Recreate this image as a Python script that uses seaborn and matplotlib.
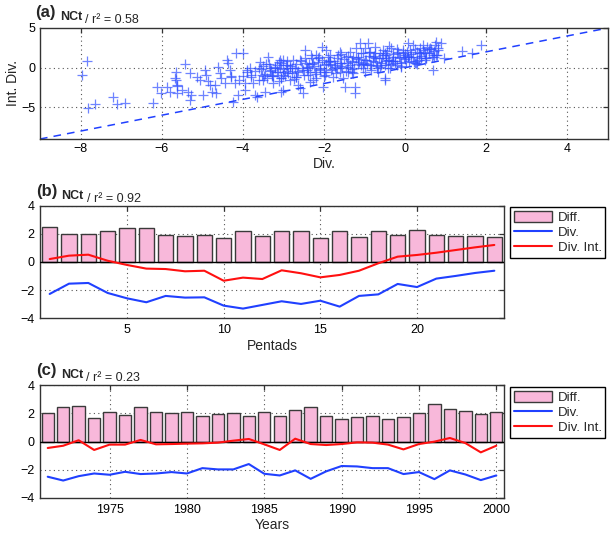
import numpy as np
import pandas as pd
import matplotlib
matplotlib.use("Agg")
import matplotlib.pyplot as plt
import seaborn as sns
from matplotlib.patches import Patch
from matplotlib.lines import Line2D
from matplotlib.text import Annotation

sns.set_theme(style="white")
plt.rcParams['font.family'] = ['Liberation Sans', 'DejaVu Sans']

# ---------------- data ----------------
# panel (a) scatter: Div. (x) vs Int. Div. (y)
scatter_div = [
    -7.85, -7.96, -7.81, -7.64, -7.19, -7.10, -6.90, -6.21, -6.11, -6.02, -5.86, -5.80, -5.66, -5.64, -5.63, -5.63,
    -5.68, -5.63, -5.43, -5.31, -5.51, -5.35, -5.27, -5.31, -5.14, -5.06, -4.98, -4.94, -4.90, -4.85, -4.81, -4.77,
    -4.69, -4.65, -4.61, -4.57, -4.53, -4.44, -4.40, -4.36, -4.32, -4.28, -4.24, -4.16, -3.99, -4.12, -3.95, -3.91,
    -3.83, -3.79, -3.75, -3.71, -3.66, -3.58, -3.54, -3.50, -3.46, -3.38, -3.34, -3.29, -3.25, -3.17, -3.13, -3.05,
    -3.01, -3.01,
    -3.09, -3.09, -3.01, -3.05, -2.92, -2.88, -2.84, -2.76, -2.72, -2.68, -2.64, -2.60, -2.51, -2.47, -2.47, -2.43,
    -2.39, -2.35, -2.31, -2.27, -2.23, -2.19, -2.15, -2.10, -2.06, -2.02, -1.98, -1.94, -1.90, -1.86, -1.82, -1.78,
    -1.73, -1.69, -1.61, -1.57, -1.53, -1.49, -1.45, -1.41, -1.37, -1.32, -1.28, -1.24, -1.24, -1.20, -1.16, -1.12,
    -1.08, -1.04, -1.00, -0.96, -0.91, -0.87, -0.83, -0.79, -0.75, -0.71, -0.67, -0.63, -0.59, -0.54, -0.50, -0.46,
    -0.42,
    -0.50, -0.50, -0.42, -0.38, -0.34, -0.30, -0.26, -0.17, -0.13, -0.09, -0.01, 0.03, 0.07, 0.11, 0.15, 0.20,
    0.24, 0.28, 0.36, 0.40, 0.44, 0.48, 0.52, 0.61, 0.69, 0.69, 0.73, 0.77, 0.81, 0.89, 0.97, 1.39, 1.65, 1.88,
    -3.9, -3.8, -3.7, -3.6, -3.5, -3.45, -3.4, -3.35, -3.3, -3.25, -3.2, -3.15, -3.1, -3.05, -3.0, -2.95, -2.9,
    -2.85, -2.8, -2.75, -2.7, -2.65, -2.6, -2.55, -2.5, -2.45, -2.4, -2.35, -2.3, -2.25, -2.2, -2.15, -2.1, -2.05,
    -2.0, -1.95, -1.9, -1.85, -1.8, -1.75, -1.7, -1.65, -1.6, -1.55, -1.5, -1.45, -1.4, -1.35, -1.3, -1.25, -1.2,
    -1.15, -1.1, -1.05, -1.0, -0.95, -0.9, -0.85, -0.8, -0.75, -0.7, -0.65, -0.6, -0.55, -0.5, -0.45, -0.4, -0.35,
    -0.3, -0.25, -0.2, -0.15, -0.1, -0.05, 0.0, 0.05, 0.1, 0.15, 0.2, 0.25, 0.3, 0.35, 0.4, 0.45, 0.5, 0.55, 0.6,
    0.65, 0.7, 0.75, 0.8, -2.2, -1.6, -1.0, -0.4, -3.6, -2.9, -2.0, -1.3, -0.7, -0.1, 0.3, -4.0, -3.95, -4.1, -4.3,
    -4.2,
    -3.55, -3.42, -3.28, -3.12, -2.98, -2.83, -2.69, -2.56, -2.41, -2.29, -2.12, -1.99, -1.87, -1.72, -1.58, -1.44,
    -1.31, -1.17, -1.03, -0.88, -0.74, -0.61, -0.47, -0.33, -0.19, -0.06, 0.08, 0.22, 0.37, 0.51, 0.64, 0.78,
    -3.48, -3.21, -2.94, -2.66, -2.38, -2.11, -1.84, -1.57, -1.29, -1.02, -0.76, -0.48, -0.21, 0.06, 0.33, 0.58,
    -3.33, -3.07, -2.79, -2.52, -2.26, -1.96, -1.69, -1.41, -1.14, -0.86, -0.58, -0.31, -0.03, 0.26, 0.47, 0.71,
]
scatter_int = [
    0.84, -0.93, -5.13, -4.58, -3.74, -4.58, -4.42, -4.50, -2.44, -3.20, -2.44, -3.11, -0.51, -1.56, -2.31, -3.20,
    -1.35, -2.19, 0.42, -0.72, -2.82, -3.03, -3.45, -4.08, -1.14, -1.56, -3.45, -0.30, -0.93, -1.68, -2.19, -3.03,
    -2.19, -3.24, 0.12, -0.72, -1.35, -1.98, 0.96, 0.54, -0.30, -1.14, -4.29, 1.80, 1.80, -3.45, -2.82, -0.30,
    -0.09, -0.93, -1.98, -3.45, -3.66, 0.75, -0.93, -1.56, -3.03, 1.38, -0.09, -0.93, -1.98, 0.33, -0.51, -1.35,
    0.96, -2.82,
    0.96, -0.09, -0.93, -3.03, 0.33, -0.72, -1.56, 0.96, -0.09, -1.14, -2.19, -2.61, -3.24, 2.23, 1.17, 0.12,
    -0.93, -1.77, 1.59, 0.54, -0.51, -1.35, 1.17, -0.09, 2.65, -2.40, -0.93, 2.23, 0.75, 1.59, -0.30, -1.14,
    0.33, 1.17, -0.51, 0.54, -1.35, -2.40, 1.38, 0.12, 2.02, 0.75, -0.72, -2.40, -3.24, 2.44, 1.38, 3.07,
    0.33, 1.80, -0.51, 0.96, 3.07, 2.02, 0.33, 1.38, 2.65, 0.75, -0.51, 1.80, 0.33, 2.23, -1.56, 1.17,
    -0.09,
    1.80, -1.35, 0.96, -0.09, 2.44, 1.38, 0.54, 2.02, 1.17, 0.12, 1.59, 0.75, 3.07, 2.23, 1.38, 2.86,
    0.54, 2.02, 2.44, 1.17, 2.86, 1.80, 1.17, 2.44, 1.59, -0.30, 2.86, 3.28, 2.23, 3.07, 1.26, 2.10, 1.89, 2.86,
    -0.6, -1.2, -0.4, -1.6, 0.2, -0.8, -1.3, 0.5, -0.3, -1.1, 0.1, -0.6, -1.7, 0.6, -0.2, -1.0, 0.8,
    0.0, -0.7, -1.4, 0.4, -0.4, 1.0, -0.1, -0.9, 0.6, 0.0, -0.5, 1.2, 0.2, -0.8, 0.7, -0.3, 1.0,
    0.3, -0.5, 1.3, 0.4, -0.2, 0.9, -0.7, 1.6, 0.6, 0.0, 1.1, -0.4, 1.5, 0.3, 0.9, -0.1, 1.2,
    0.5, 1.8, 0.0, 1.0, 0.4, 1.5, -0.3, 0.8, 1.9, 0.2, 1.2, 0.6, 1.6, 0.3, 2.1, 1.0, 0.5,
    1.7, 0.9, 2.4, 1.3, 0.6, 1.9, 1.1, 2.0, 0.8, 1.7, 1.3, 2.3, 0.9, 1.8, 1.5, 2.2, 1.0, 2.6, 1.9,
    1.4, 2.1, 1.6, 2.5, 1.6, 2.0, 2.5, 2.7, 0.0, -0.4, -1.0, -0.6, -0.1, 0.2, 0.4, -1.0, -1.9, -1.5, -1.0,
    -1.9,
    -0.2, 0.4, -1.0, 0.7, -0.5, 0.2, -1.2, 0.9, -0.3, 0.5, 1.4, -0.6, 0.8, 0.1, 1.7, 0.6,
    -0.2, 1.1, 0.4, 2.0, 1.2, 0.1, 1.6, 0.9, 0.3, 2.2, 1.4, 0.7, 1.9, 1.2, 2.4, 1.6,
    -1.1, -0.1, 0.3, -0.6, 0.5, -0.2, 0.9, 0.2, 1.3, 0.6, 1.5, 0.9, 1.8, 1.5, 1.0, 2.3,
    -0.4, -1.3, 0.0, -0.3, -1.6, 0.4, 0.0, -0.6, 0.7, 0.3, 1.2, 0.8, 1.4, 0.6, 2.0, 1.4,
]

# panel (b): pentads
pentads = list(range(1, 25))
pent_diff = [2.49, 2.01, 1.99, 2.22, 2.44, 2.39, 1.94, 1.87, 1.89, 1.73, 2.18, 1.82,
             2.18, 2.18, 1.68, 2.22, 1.78, 2.18, 1.94, 2.30, 1.89, 1.87, 1.85, 1.80]
pent_div = [-2.27, -1.54, -1.49, -2.20, -2.58, -2.86, -2.41, -2.53, -2.51, -3.10, -3.31, -3.05,
            -2.79, -2.98, -2.75, -3.17, -2.41, -2.30, -1.56, -1.78, -1.18, -0.99, -0.78, -0.62]
pent_divint = [0.21, 0.45, 0.52, 0.09, -0.21, -0.47, -0.50, -0.66, -0.62, -1.33, -1.11, -1.21,
               -0.59, -0.80, -1.09, -0.92, -0.62, -0.09, 0.38, 0.50, 0.66, 0.85, 1.04, 1.21]

# panel (c): years
years = list(range(1971, 2001))
year_diff = [2.02, 2.47, 2.54, 1.69, 2.14, 1.92, 2.45, 2.07, 2.00, 2.14, 1.81, 1.97, 2.04, 1.83, 2.14,
             1.83, 2.26, 2.45, 1.85, 1.62, 1.73, 1.83, 1.62, 1.76, 2.00, 2.64, 2.30, 2.19, 1.95, 2.11]
year_div = [-2.49, -2.76, -2.45, -2.26, -2.35, -2.14, -2.30, -2.26, -2.16, -2.26, -1.88, -1.97, -1.97, -1.59, -2.28,
            -2.40, -2.04, -2.64, -2.11, -1.73, -1.76, -1.88, -1.88, -2.30, -2.16, -2.66, -2.04, -2.33, -2.73, -2.40]
year_divint = [-0.45, -0.29, 0.10, -0.59, -0.21, -0.21, 0.12, -0.19, -0.17, -0.14, -0.12, -0.07, 0.07, 0.19, -0.19,
               -0.59, 0.21, -0.17, -0.24, -0.17, -0.05, -0.07, -0.21, -0.55, -0.17, 0.00, 0.26, -0.10, -0.76, -0.29]

titles = [("(a)", "NCt", "/ r\u00b2 = 0.58"),
          ("(b)", "NCt", "/ r\u00b2 = 0.92"),
          ("(c)", "NCt", "/ r\u00b2 = 0.23")]
legend_labels = ["Diff.", "Div.", "Div. Int."]

# ---------------- style ----------------
BAR_COLOR = "#f8b8da"
BAR_EDGE = "#3a3a3a"
BLUE = "#2040ff"
RED = "#ff1010"
SCAT = "#3050ff"
GRIDKW = dict(color="#555555", linestyle=(0, (1, 3)), linewidth=0.8)
TICK_FS = 9
LABEL_FS = 10

fig = plt.figure(figsize=(6.10, 5.33), dpi=100)
W, H = 610.0, 533.0


def axes_px(l, t, r, b):
    return fig.add_axes([l / W, 1 - b / H, (r - l) / W, (b - t) / H])


def style_axes(ax, pad=3):
    for s in ax.spines.values():
        s.set_color("#333333")
        s.set_linewidth(1.0)
    ax.tick_params(direction="in", length=3.5, width=0.9, color="#333333",
                   labelsize=TICK_FS, top=True, right=True, labelcolor="black", pad=pad)
    ax.grid(False)


def add_title(x_px, y_px, parts):
    a, b, c = parts
    t1 = fig.text(x_px / W, 1 - y_px / H, a, fontsize=12, fontweight="bold", va="baseline")
    t2 = fig.add_artist(Annotation(b, xy=(1, 0), xycoords=t1, xytext=(3, 0),
                                   textcoords="offset points", fontsize=9,
                                   fontweight="bold", va="baseline"))
    fig.add_artist(Annotation(c, xy=(1, 0), xycoords=t2, xytext=(2, 0),
                              textcoords="offset points", fontsize=9, va="baseline"))


# ---------------- panel (a) ----------------
ax1 = axes_px(40, 28, 608, 139)
df_sc = pd.DataFrame({"div": scatter_div, "int": scatter_int})
sns.scatterplot(data=df_sc, x="div", y="int", marker="+", s=50, color=SCAT, alpha=0.7,
                linewidth=0.9, ax=ax1, zorder=3)
diag = pd.DataFrame({"x": [-9, 5], "y": [-9, 5]})
sns.lineplot(data=diag, x="x", y="y", ax=ax1, color=BLUE, linestyle=(0, (5, 4)), linewidth=1.1, zorder=2)
ax1.set_xlim(-9, 5)
ax1.set_ylim(-9, 5)
ax1.set_xticks([-8, -6, -4, -2, 0, 2, 4])
ax1.set_yticks([-5, 0, 5])
ax1.set_xticklabels(["\u22128", "\u22126", "\u22124", "\u22122", "0", "2", "4"])
ax1.set_yticklabels(["\u22125", "0", "5"])
for v in [-8, -6, -4, -2, 0, 2, 4]:
    ax1.axvline(v, zorder=0, **GRIDKW)
for v in [-5, 0]:
    ax1.axhline(v, zorder=0, **GRIDKW)
style_axes(ax1)
ax1.set_xlabel("Div.", fontsize=LABEL_FS, labelpad=1)
ax1.set_ylabel("Int. Div.", fontsize=LABEL_FS, labelpad=1)
add_title(35, 17, titles[0])


def bar_panel(ax, xs, diff, div, divint, xticks, xlim, xlabel, legend_top_px):
    df = pd.DataFrame({"x": xs, "diff": diff, "div": div, "divint": divint})
    sns.barplot(data=df, x="x", y="diff", native_scale=True, color=BAR_COLOR, saturation=1,
                edgecolor=BAR_EDGE, linewidth=1.0, width=0.8, ax=ax, zorder=2)
    ax.axhline(0, color="black", linewidth=1.0, zorder=3)
    sns.lineplot(data=df, x="x", y="div", color=BLUE, linewidth=1.5, ax=ax, zorder=4)
    sns.lineplot(data=df, x="x", y="divint", color=RED, linewidth=1.5, ax=ax, zorder=4)
    ax.set_xlim(*xlim)
    ax.set_ylim(-4, 4)
    ax.set_yticks([-4, -2, 0, 2, 4])
    ax.set_yticklabels(["\u22124", "\u22122", "0", "2", "4"])
    ax.set_xticks(xticks)
    ax.set_xticklabels([str(t) for t in xticks])
    for v in xticks:
        ax.axvline(v, zorder=0, **GRIDKW)
    for v in [-2, 2, 4]:
        ax.axhline(v, zorder=0, **GRIDKW)
    style_axes(ax, pad=4)
    ax.set_xlabel(xlabel, fontsize=LABEL_FS, labelpad=2)
    ax.set_ylabel("")
    handles = [Patch(facecolor=BAR_COLOR, edgecolor=BAR_EDGE, linewidth=1.0),
               Line2D([], [], color=BLUE, linewidth=1.5),
               Line2D([], [], color=RED, linewidth=1.5)]
    leg = fig.legend(handles, legend_labels, loc="upper left",
                     bbox_to_anchor=(510 / W, 1 - legend_top_px / H),
                     fontsize=9.5, frameon=True, fancybox=False, edgecolor="black",
                     framealpha=1, borderpad=0.3, labelspacing=0.18, handlelength=2.9,
                     handleheight=0.9, handletextpad=0.4, borderaxespad=0)
    leg.get_frame().set_linewidth(1.0)


ax2 = axes_px(40, 205.7, 504, 318.3)
bar_panel(ax2, pentads, pent_diff, pent_div, pent_divint, [5, 10, 15, 20], (0.5, 24.5), "Pentads", 206.7)
add_title(36, 196, titles[1])

ax3 = axes_px(40, 385.3, 504, 498)
bar_panel(ax3, years, year_diff, year_div, year_divint, [1975, 1980, 1985, 1990, 1995, 2000],
          (1970.5, 2000.5), "Years", 386.7)
add_title(36, 375, titles[2])

fig.savefig("out.png", dpi=100)
